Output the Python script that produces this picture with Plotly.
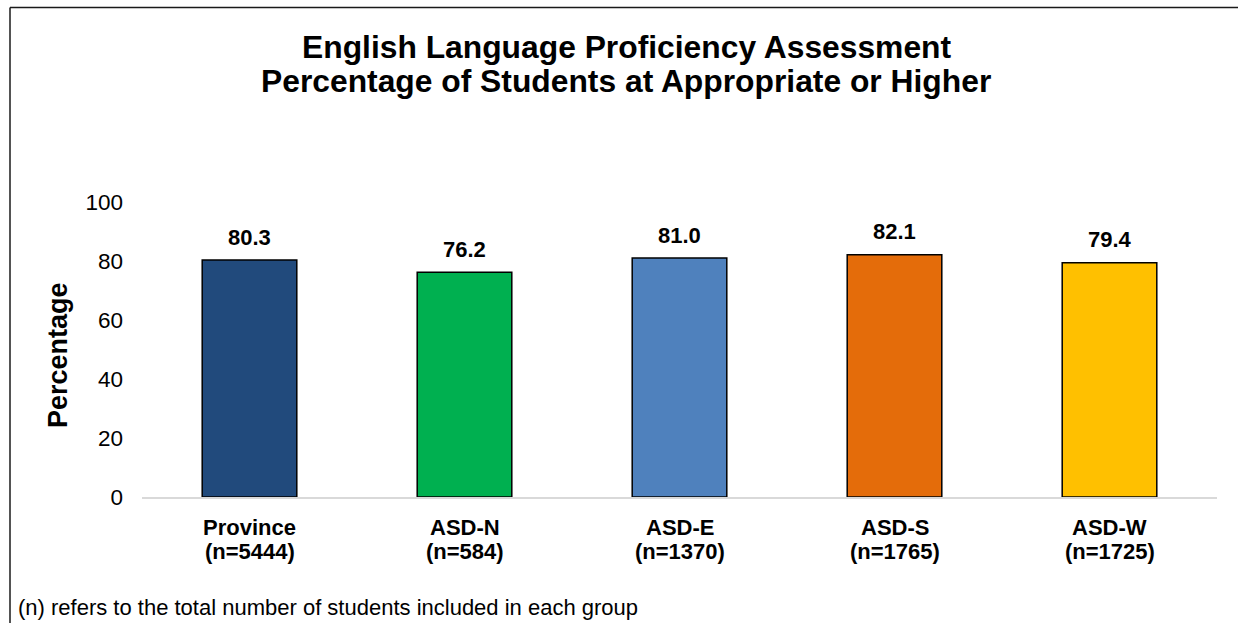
import plotly.graph_objects as go

categories = ["Province", "ASD-N", "ASD-E", "ASD-S", "ASD-W"]
group_sizes = [5444, 584, 1370, 1765, 1725]
values = [80.3, 76.2, 81.0, 82.1, 79.4]
colors = ["#214A7C", "#00B050", "#4F81BD", "#E46C0A", "#FFC000"]
y_ticks = [0, 20, 40, 60, 80, 100]
title_lines = ["English Language Proficiency Assessment",
               "Percentage of Students at Appropriate or Higher"]
y_title = "Percentage"
footnote = "(n) refers to the total number of students included in each group"

W, H = 1238, 623
L, R, T, B = 142, 21, 202, 126
PW, PH = W - L - R, H - T - B

def px(x):
    return (x - L) / PW

def py(y):
    return (H - B - y) / PH

FONT = "Liberation Sans, Arial, sans-serif"

fig = go.Figure()
fig.add_trace(go.Bar(
    x=categories,
    y=values,
    marker=dict(color=colors, line=dict(color="#000000", width=1.5)),
    width=0.44,
    hoverinfo="x+y",
))

annotations = []
for c, v in zip(categories, values):
    annotations.append(dict(
        x=c, y=v, xref="x", yref="y", text=f"<b>{v:.1f}</b>",
        showarrow=False, yanchor="middle", yshift=23,
        font=dict(family=FONT, size=22, color="#000000"),
    ))
for c, n in zip(categories, group_sizes):
    annotations.append(dict(
        x=c, y=py(527), xref="x", yref="paper", text=f"<b>{c}</b>",
        showarrow=False, yanchor="middle",
        font=dict(family=FONT, size=22, color="#000000"),
    ))
    annotations.append(dict(
        x=c, y=py(551), xref="x", yref="paper", text=f"<b>(n={n})</b>",
        showarrow=False, yanchor="middle",
        font=dict(family=FONT, size=22, color="#000000"),
    ))

annotations.append(dict(x=px(626), y=py(47), xref="paper", yref="paper",
                        text=f"<b>{title_lines[0]}</b>", showarrow=False,
                        xanchor="center", yanchor="middle",
                        font=dict(family=FONT, size=31.8, color="#000000")))
annotations.append(dict(x=px(626), y=py(81), xref="paper", yref="paper",
                        text=f"<b>{title_lines[1]}</b>", showarrow=False,
                        xanchor="center", yanchor="middle",
                        font=dict(family=FONT, size=31.8, color="#000000")))
annotations.append(dict(x=px(58), y=py(355), xref="paper", yref="paper",
                        text=f"<b>{y_title}</b>", showarrow=False, textangle=-90,
                        xanchor="center", yanchor="middle",
                        font=dict(family=FONT, size=27, color="#000000")))
annotations.append(dict(x=px(16), y=py(607), xref="paper", yref="paper",
                        text=footnote, showarrow=False,
                        xanchor="left", yanchor="middle",
                        font=dict(family=FONT, size=22, color="#000000")))

shapes = [
    dict(type="line", xref="paper", yref="paper", x0=px(10), x1=px(W + 5),
         y0=py(7.5), y1=py(7.5), line=dict(color="#1a1a1a", width=1.5)),
    dict(type="line", xref="paper", yref="paper", x0=px(10), x1=px(10),
         y0=py(7.5), y1=py(H + 5), line=dict(color="#1a1a1a", width=1.5)),
]

fig.update_layout(
    width=W, height=H,
    margin=dict(l=L, r=R, t=T, b=B, pad=0),
    paper_bgcolor="#FFFFFF", plot_bgcolor="#FFFFFF",
    showlegend=False,
    annotations=annotations,
    shapes=shapes,
    font=dict(family=FONT, color="#000000"),
    xaxis=dict(
        tickmode="array", tickvals=categories, showticklabels=False,
        showline=True, linecolor="#D9D9D9", linewidth=1.5,
        showgrid=False, ticks="", zeroline=False,
    ),
    yaxis=dict(
        range=[0, 100], tickmode="array", tickvals=y_ticks,
        showgrid=False, zeroline=False, showline=False, ticks="",
        tickfont=dict(family=FONT, size=22.5, color="#000000"),
        ticklabelstandoff=18,
    ),
)

fig.write_html("out.html",
               config={"displayModeBar": False},
               post_script="document.body.style.margin='0';document.body.style.padding='0';document.body.style.overflow='hidden';")
